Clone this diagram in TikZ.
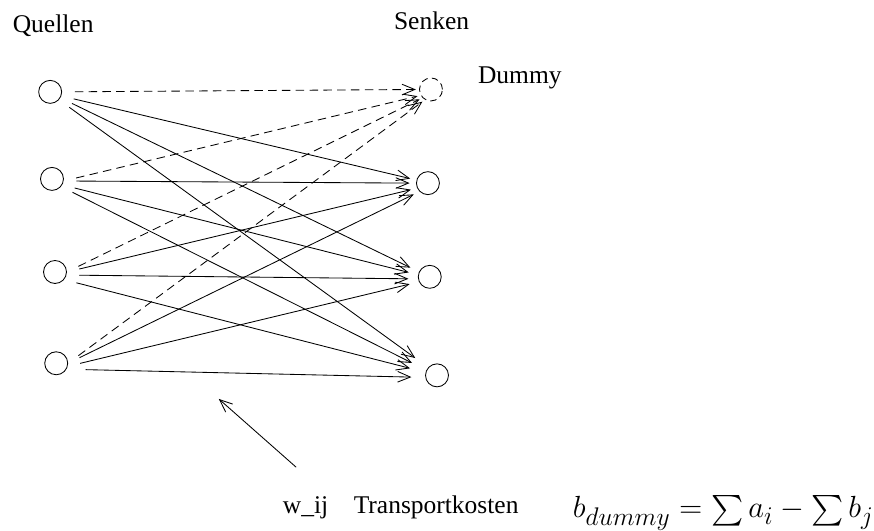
\documentclass[tikz,border=0pt]{standalone}
\usepackage{amsmath}
\usepackage{fontspec}
\setmainfont{Liberation Serif}
\DeclareMathSizes{14}{14}{11.5}{9}
\usetikzlibrary{arrows.meta, positioning}

\begin{document}
\begin{tikzpicture}[
  knoten/.style={draw, circle, minimum size=0.38cm, inner sep=0pt},
  kante/.style={-{Straight Barb[length=6pt, width=5pt]}, shorten <=6pt, shorten >=3pt},
  dummykante/.style={kante, dash pattern=on 4pt off 2.5pt, shorten >=1.5pt},
  beschr/.style={font=\fontsize{12}{14}\selectfont, inner sep=0pt, anchor=base}
]
  \useasboundingbox (0,0) rectangle (14.46,8.77);

  % Quellen
  \node[knoten] (q1) at (0.83, 7.25) {};
  \node[knoten] (q2) at (0.86, 5.81) {};
  \node[knoten] (q3) at (0.91, 4.27) {};
  \node[knoten] (q4) at (0.93, 2.76) {};

  % Senken
  \node[knoten, dash pattern=on 3pt off 2pt] (s0) at (7.13, 7.29) {};
  \node[knoten] (s1) at (7.08, 5.74) {};
  \node[knoten] (s2) at (7.11, 4.19) {};
  \node[knoten] (s3) at (7.23, 2.56) {};

  \node[beschr] (quellen) at (0.88, 8.24) {Quellen};
  \node[beschr] (senken) at (7.14, 8.29) {Senken};
  \node[beschr] (dummy) at (8.60, 7.39) {Dummy};
  \node[beschr] (kosten) at (6.63, 0.27) {w\_ij\quad Transportkosten};
  \node[beschr, font=\fontsize{14}{17}\selectfont] (formel) at (11.97, 0.20)
    {$b_{dummy} = \sum a_i - \sum b_j$};

  % Kanten zur Dummy-Senke
  \draw[dummykante] (q1.east) -- (s0.west);
  \draw[dummykante] (q2.-10) -- (s0.210);
  \draw[dummykante] (q3.east) -- (s0.225);
  \draw[dummykante] (q4.east) -- (s0.240);
  % Kanten zu den Senken
  \draw[kante] (q1.-20) -- (s1.165);
  \draw[kante] (q2.-10) -- (s1.west);
  \draw[kante] (q3.east) -- (s1.205);
  \draw[kante] (q4.east) -- (s1.225);
  \draw[kante, shorten >=4.5pt] (q1.-30) -- (s2.155);
  \draw[kante, shorten >=4.5pt] (q2.-30) -- (s2.170);
  \draw[kante, shorten >=4.5pt] (q3.-15) -- (s2.190);
  \draw[kante, shorten >=4.5pt] (q4.-15) -- (s2.205);
  \draw[kante, shorten >=7.5pt] (q1.-42) -- (s3.138);
  \draw[kante, shorten >=7.5pt] (q2.-40) -- (s3.154);
  \draw[kante, shorten >=7.5pt] (q3.-40) -- (s3.165);
  \draw[kante, shorten <=9pt, shorten >=6.5pt] (q4.-30) -- (s3.190);

  \coordinate (pfeilende) at (4.90, 1.04);
  \coordinate (pfeilspitze) at (3.62, 2.17);
  \draw[kante, shorten <=0pt, shorten >=0pt] (pfeilende) -- (pfeilspitze);
\end{tikzpicture}
\end{document}
